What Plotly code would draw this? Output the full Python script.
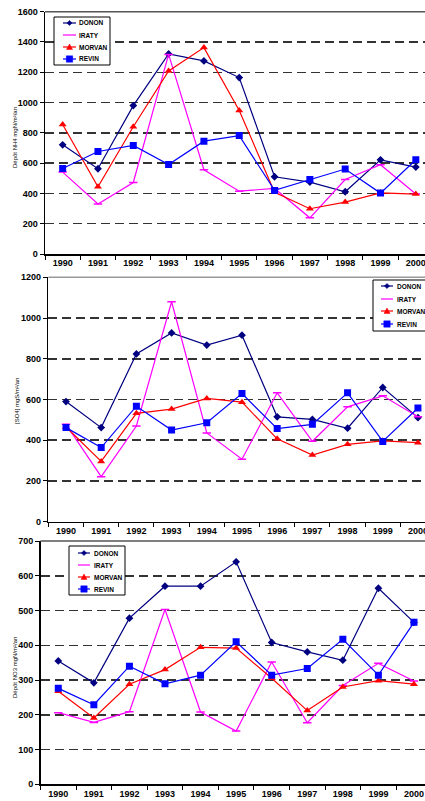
import plotly.graph_objects as go

# ---------------- data ----------------
years = ["1990", "1991", "1992", "1993", "1994", "1995", "1996", "1997", "1998", "1999", "2000"]
series_names = ["DONON", "IRATY", "MORVAN", "REVIN"]

nh4_donon = [721, 563, 980, 1321, 1275, 1165, 510, 475, 411, 622, 574]
nh4_iraty = [541, 330, 472, 1318, 556, 415, 433, 239, 492, 589, 396]
nh4_morvan = [855, 444, 840, 1209, 1363, 948, 407, 299, 343, 404, 396]
nh4_revin = [565, 677, 717, 591, 745, 782, 420, 492, 561, 402, 622]

so4_donon = [590, 462, 824, 927, 867, 916, 515, 502, 459, 659, 511]
so4_iraty = [478, 221, 470, 1080, 436, 307, 633, 395, 564, 618, 515]
so4_morvan = [465, 296, 532, 553, 605, 587, 407, 327, 380, 397, 388]
so4_revin = [462, 364, 567, 450, 486, 629, 457, 478, 633, 394, 558]

no3_donon = [355, 292, 478, 570, 570, 640, 408, 381, 357, 564, 466]
no3_iraty = [206, 178, 209, 503, 208, 153, 352, 177, 284, 348, 297]
no3_morvan = [268, 191, 288, 330, 394, 392, 305, 212, 280, 298, 288]
no3_revin = [276, 229, 340, 289, 314, 410, 314, 333, 417, 314, 466]

y_titles = ["Dépôt NH4 mgN/m²/an", "[SO4] mgS/m²/an", "Dépôt NO3 mgN/m²/an"]
y_max = [1600, 1200, 700]
y_step = [200, 200, 100]

# ---------------- styling ----------------
W, H = 425, 801
FONT = "Liberation Sans"
colors = {"DONON": "#000080", "IRATY": "#FF00FF", "MORVAN": "#FF0000", "REVIN": "#0000FF"}
markers = {
    "DONON": dict(symbol="diamond", size=6, color="#000080"),
    "IRATY": dict(symbol="line-ew", size=6, color="#FF00FF", line=dict(width=1.5, color="#FF00FF")),
    "MORVAN": dict(symbol="triangle-up", size=7, color="#FF0000"),
    "REVIN": dict(symbol="square", size=7, color="#0000FF"),
}


def px_x(x):
    return x / W


def px_y(y):
    return 1 - y / H


# panel geometry in pixels: (left, top, bottom, x-range max)
panels = [
    dict(left=45.0, top=11.7, bottom=254.0, xmax=10.26,
         data=[nh4_donon, nh4_iraty, nh4_morvan, nh4_revin],
         title_xy=(15, 138), topcolor="#555555",
         leg=dict(box=(54, 17, 110, 65), line=(63, 76), text=77, ys=[23, 35, 47, 59])),
    dict(left=48.4, top=277.3, bottom=521.7, xmax=10.2,
         data=[so4_donon, so4_iraty, so4_morvan, so4_revin],
         title_xy=(17, 401), topcolor="#999999",
         leg=dict(box=(373, 280, 432, 331), line=(381, 393), text=394.5, ys=[286, 299, 311, 324])),
    dict(left=40.5, top=541.0, bottom=784.3, xmax=10.31,
         data=[no3_donon, no3_iraty, no3_morvan, no3_revin],
         title_xy=(15, 668), topcolor="#555555",
         leg=dict(box=(69, 546, 125, 595), line=(78, 90), text=92, ys=[553, 565, 577, 589])),
]

fig = go.Figure()
shapes = []
annotations = []

for i, p in enumerate(panels):
    k = "" if i == 0 else str(i + 1)
    xa, ya = "x" + k, "y" + k
    for name, vals in zip(series_names, p["data"]):
        fig.add_trace(go.Scatter(
            x=years, y=vals, mode="lines+markers", name=name,
            line=dict(color=colors[name], width=1.2),
            marker=markers[name], showlegend=False,
            xaxis=xa, yaxis=ya,
        ))
    xdom = [px_x(p["left"]), 1.0]
    ydom = [px_y(p["bottom"]), px_y(p["top"])]
    fig.update_layout(**{
        "xaxis" + k: dict(
            domain=xdom, anchor=ya, type="category", range=[-0.5, p["xmax"]],
            tickson="boundaries", ticks="outside", ticklen=4, tickcolor="black",
            showgrid=False, showline=True, linecolor="black", linewidth=1.5,
            tickfont=dict(family=FONT, size=9, color="black", weight="bold"),
            automargin=False, fixedrange=True,
        ),
        "yaxis" + k: dict(
            domain=ydom, anchor=xa, range=[0, y_max[i]], dtick=y_step[i], tick0=0,
            ticks="outside", ticklen=4, tickcolor="black",
            showgrid=True, gridcolor="#333333", gridwidth=1.5, griddash="9px,5px",
            showline=True, linecolor="black", linewidth=1.5, zeroline=False,
            tickfont=dict(family=FONT, size=9, color="black", weight="bold"),
            automargin=False, fixedrange=True,
        ),
    })
    # top border of plot area
    shapes.append(dict(type="line", xref=xa + " domain", yref=ya + " domain",
                       x0=0, x1=1, y0=1, y1=1,
                       line=dict(color=p["topcolor"], width=1.5)))
    # y-axis title
    tx, ty = p["title_xy"]
    annotations.append(dict(text=y_titles[i], x=px_x(tx), y=px_y(ty), xref="paper", yref="paper",
                            textangle=-90, showarrow=False, xanchor="center", yanchor="middle",
                            font=dict(family=FONT, size=6, color="black")))
    # legend box
    lg = p["leg"]
    bx0, by0, bx1, by1 = lg["box"]
    shapes.append(dict(type="rect", xref="paper", yref="paper",
                       x0=px_x(bx0), x1=px_x(bx1), y0=px_y(by1), y1=px_y(by0),
                       line=dict(color="black", width=1), fillcolor="white", layer="above"))
    lx0, lx1 = lg["line"]
    cx = (lx0 + lx1) / 2
    for name, ly in zip(series_names, lg["ys"]):
        c = colors[name]
        shapes.append(dict(type="line", xref="paper", yref="paper",
                           x0=px_x(lx0), x1=px_x(lx1), y0=px_y(ly), y1=px_y(ly),
                           line=dict(color=c, width=1.2), layer="above"))
        if name == "DONON":
            s = 2.6
            path = "M {} {} L {} {} L {} {} L {} {} Z".format(
                px_x(cx), px_y(ly - s), px_x(cx + s), px_y(ly),
                px_x(cx), px_y(ly + s), px_x(cx - s), px_y(ly))
        elif name == "MORVAN":
            s = 3
            path = "M {} {} L {} {} L {} {} Z".format(
                px_x(cx), px_y(ly - s), px_x(cx + s), px_y(ly + s * 0.8),
                px_x(cx - s), px_y(ly + s * 0.8))
        elif name == "REVIN":
            s = 3.2
            path = "M {} {} L {} {} L {} {} L {} {} Z".format(
                px_x(cx - s), px_y(ly - s), px_x(cx + s), px_y(ly - s),
                px_x(cx + s), px_y(ly + s), px_x(cx - s), px_y(ly + s))
        else:
            path = None
        if path:
            shapes.append(dict(type="path", xref="paper", yref="paper", path=path,
                               fillcolor=c, line=dict(color=c, width=0.5), layer="above"))
        annotations.append(dict(text=name, x=px_x(lg["text"]), y=px_y(ly), xref="paper", yref="paper",
                                showarrow=False, xanchor="left", yanchor="middle",
                                font=dict(family=FONT, size=6.5, color="black", weight="bold")))

fig.update_layout(
    width=W, height=H, autosize=False,
    margin=dict(l=0, r=0, t=0, b=0, pad=0),
    paper_bgcolor="white", plot_bgcolor="white",
    showlegend=False,
    shapes=shapes, annotations=annotations,
    font=dict(family=FONT, color="black"),
)

fig.write_html("out.html",
               config={"displayModeBar": False, "staticPlot": True},
               post_script="document.body.style.margin='0';document.body.style.padding='0';"
                           "document.body.style.overflow='hidden';")
